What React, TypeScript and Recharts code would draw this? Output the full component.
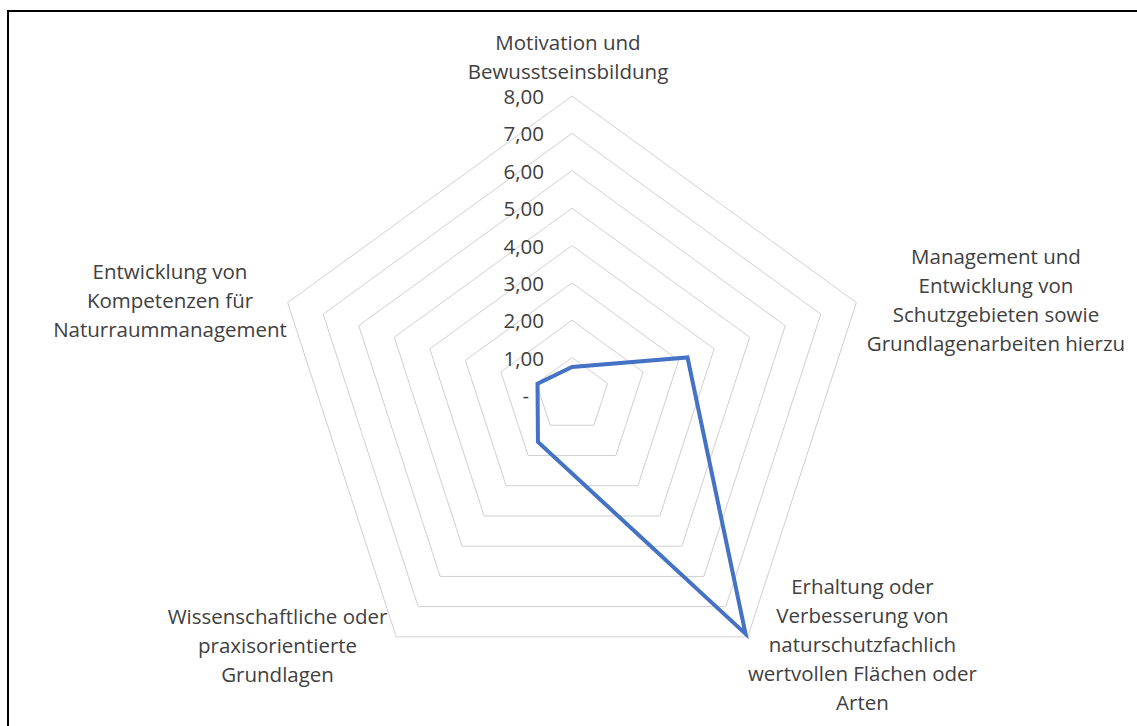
import React from "react";
import { RadarChart, Radar, PolarGrid, PolarAngleAxis, PolarRadiusAxis } from "recharts";

const categories = [
  "Motivation und Bewusstseinsbildung",
  "Management und Entwicklung von Schutzgebieten sowie Grundlagenarbeiten hierzu",
  "Erhaltung oder Verbesserung von naturschutzfachlich wertvollen Flächen oder Arten",
  "Wissenschaftliche oder praxisorientierte Grundlagen",
  "Entwicklung von Kompetenzen für Naturraummanagement",
];

const values = [0.75, 3.25, 7.9, 1.55, 0.97];

const categoryLines: string[][] = [
  ["Motivation und", "Bewusstseinsbildung"],
  ["Management und", "Entwicklung von", "Schutzgebieten sowie", "Grundlagenarbeiten hierzu"],
  ["Erhaltung oder", "Verbesserung von", "naturschutzfachlich", "wertvollen Flächen oder", "Arten"],
  ["Wissenschaftliche oder", "praxisorientierte", "Grundlagen"],
  ["Entwicklung von", "Kompetenzen für", "Naturraummanagement"],
];

const radiusTicks = [0, 1, 2, 3, 4, 5, 6, 7, 8];
const radiusTickLabels = ["-", "1,00", "2,00", "3,00", "4,00", "5,00", "6,00", "7,00", "8,00"];

const data = categories.map((c, i) => ({ category: c, value: values[i] }));

// label block centre offsets relative to the tick anchor given by the axis
const labelOffsets: [number, number][] = [
  [-4, -32],
  [132, -1],
  [110, 1],
  [-114, 2],
  [-110, 0],
];

const FONT = "'Open Sans', sans-serif";
const TEXT_COLOR = "#404040";
const LINE_H = 29;
const FONT_SIZE = 20.5;

const AngleTick = (props: any) => {
  const { x, y, payload } = props;
  const idx = categories.indexOf(payload.value);
  const lines = categoryLines[idx] || [payload.value];
  const [dx, dy] = labelOffsets[idx] || [0, 0];
  const cxText = x + dx;
  const startY = y + dy - ((lines.length - 1) * LINE_H) / 2;
  return (
    <text x={cxText} y={startY} textAnchor="middle" fill={TEXT_COLOR} fontFamily={FONT} fontSize={FONT_SIZE}>
      {lines.map((l, i) => (
        <tspan key={i} x={cxText} y={startY + i * LINE_H} dominantBaseline="central">
          {l}
        </tspan>
      ))}
    </text>
  );
};

const RadiusTick = (props: any) => {
  const { x, y, payload } = props;
  const i = radiusTicks.indexOf(payload.value);
  const label = radiusTickLabels[i] ?? String(payload.value);
  const extra = payload.value === 0 ? -15 : 0;
  return (
    <text
      x={x - 28 + extra}
      y={y}
      textAnchor="end"
      dominantBaseline="central"
      fill={TEXT_COLOR}
      fontFamily={FONT}
      fontSize={FONT_SIZE}
    >
      {label}
    </text>
  );
};

export default function App() {
  return (
    <div style={{ position: "absolute", left: 0, top: 0, width: 1137, height: 726, overflow: "hidden", background: "#fff" }}>
      <div
        style={{
          position: "absolute",
          left: 7,
          top: 10,
          width: 1200,
          height: 800,
          borderTop: "2px solid #000",
          borderLeft: "2px solid #000",
        }}
      />
      <div style={{ position: "absolute", left: 0, top: 0 }}>
        <RadarChart width={1137} height={726} data={data} cx={572} cy={395} outerRadius={299}>
          <PolarGrid radialLines={false} stroke="#d0d0d0" strokeWidth={1} />
          <PolarAngleAxis dataKey="category" tick={<AngleTick />} tickLine={false} axisLine={false} />
          <PolarRadiusAxis
            angle={90}
            domain={[0, 8]}
            ticks={radiusTicks as any}
            tickCount={9}
            orientation="left"
            axisLine={false}
            tickLine={false}
            tick={<RadiusTick />}
          />
          <Radar
            dataKey="value"
            stroke="#4472C4"
            strokeWidth={4}
            fill="none"
            fillOpacity={0}
            dot={false}
            isAnimationActive={false}
          />
        </RadarChart>
      </div>
    </div>
  );
}
